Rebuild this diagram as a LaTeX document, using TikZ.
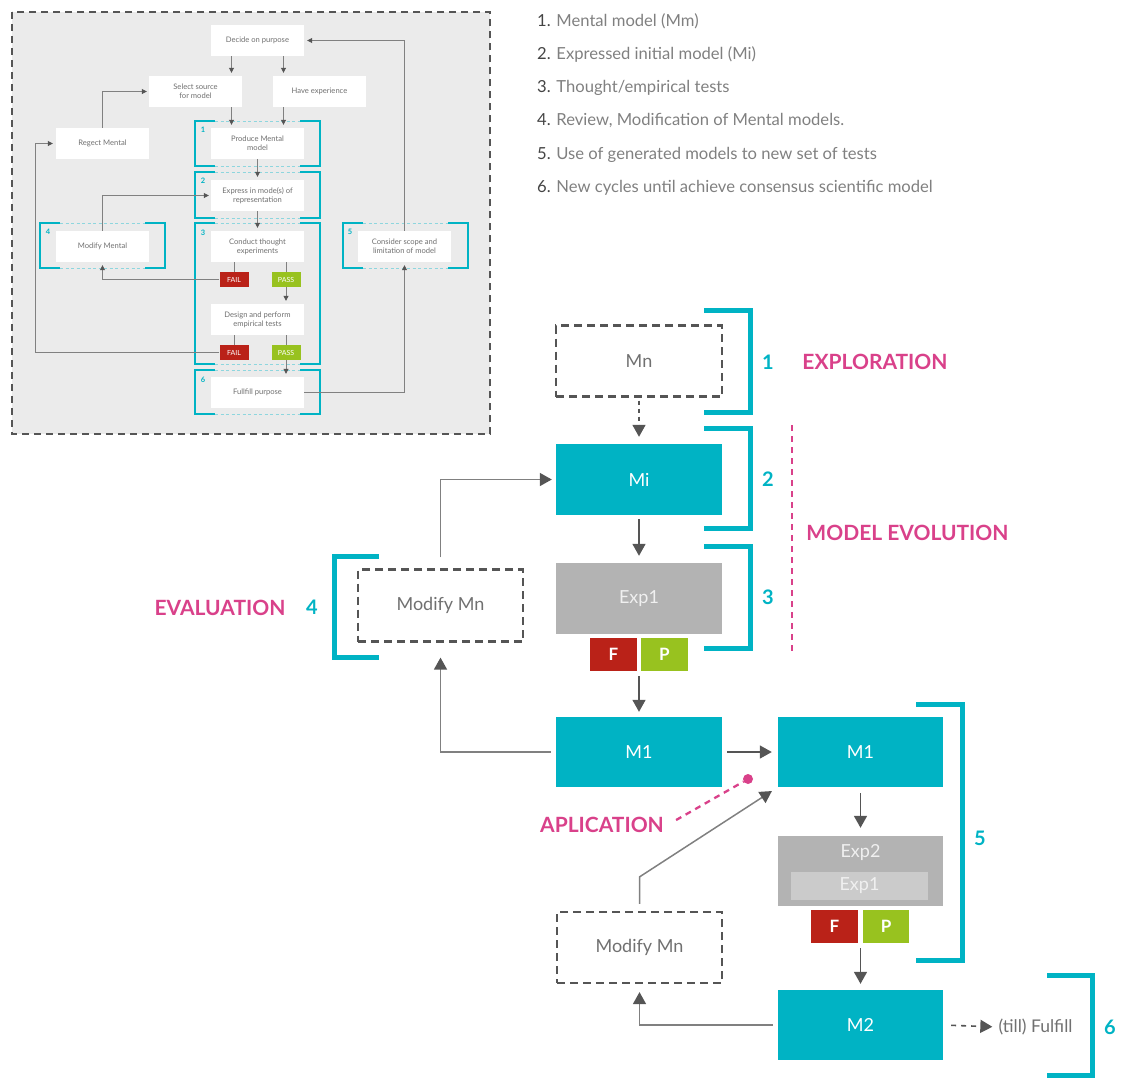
\documentclass[tikz,border=0pt]{standalone}
\usepackage{fontspec}
\setmainfont{Lato}
\usetikzlibrary{arrows.meta,calc}

\definecolor{tealc}{HTML}{00B3C4}
\definecolor{tealdash}{HTML}{8ED6DE}
\definecolor{pinkc}{HTML}{D9418A}
\definecolor{failc}{HTML}{BA2218}
\definecolor{passc}{HTML}{98C21F}
\definecolor{expgrey}{HTML}{B3B3B3}
\definecolor{expin}{HTML}{CBCBCB}
\definecolor{dgrey}{HTML}{555555}
\definecolor{lgrey}{HTML}{808080}
\definecolor{tgrey}{HTML}{707070}
\definecolor{insetbg}{HTML}{EBEBEB}
\definecolor{numgrey}{HTML}{444444}

% frame of a step in the small flow chart: solid ends, dashed middle
\newcommand\stepframe[4]{%
  \draw[iframe] (#1+20,#2) -- (#1,#2) -- (#1,#4) -- (#1+20,#4);
  \draw[iframe] (#3-20,#2) -- (#3,#2) -- (#3,#4) -- (#3-20,#4);
  \draw[iframedash] (#1+20,#2) -- (#3-20,#2);
  \draw[iframedash] (#1+20,#4) -- (#3-20,#4);
}

\begin{document}
\begin{tikzpicture}[x=1pt,y=-1pt,
  mainbox/.style={minimum width=166pt, minimum height=71pt, inner sep=0pt,
    font=\fontsize{18}{21}\selectfont},
  tealbox/.style={mainbox, fill=tealc, text=white},
  greybox/.style={mainbox, fill=expgrey, text=white!94!black},
  dashbox/.style={mainbox, draw=dgrey, line width=2.2pt,
    dash pattern=on 8pt off 5pt, text=tgrey},
  failbox/.style={fill=failc, text=white, minimum width=47pt, minimum height=33pt,
    inner sep=0pt, font=\fontsize{17}{19}\selectfont\bfseries},
  passbox/.style={failbox, fill=passc},
  darr/.style={draw=dgrey, line width=1.6pt, -{Triangle[length=12pt,width=13pt]}},
  link/.style={draw=lgrey, line width=1.5pt,
    -{Triangle[length=12pt,width=13pt,color=dgrey]}},
  brk/.style={draw=tealc, line width=5pt},
  num/.style={text=tealc, font=\fontsize{20}{23}\selectfont\bfseries},
  head/.style={text=pinkc, font=\fontsize{21}{24}\selectfont\bfseries},
  ibox/.style={fill=white, minimum width=93pt, minimum height=31pt, inner sep=0pt,
    align=center, text=tgrey, font=\fontsize{7.6}{9}\selectfont},
  ifail/.style={fill=failc, text=white, minimum width=29pt, minimum height=15pt,
    inner sep=0pt, font=\fontsize{7}{8}\selectfont},
  ipass/.style={ifail, fill=passc},
  iline/.style={draw=lgrey, line width=0.8pt},
  iarr/.style={iline, -{Triangle[length=5pt,width=5pt,color=dgrey]}},
  iframe/.style={draw=tealc, line width=2pt},
  iframedash/.style={draw=tealdash, line width=0.8pt, dash pattern=on 3pt off 2.5pt},
  inum/.style={text=tealc, font=\fontsize{7.5}{9}\selectfont\bfseries},
  listitem/.style={anchor=west, text=lgrey, inner sep=0pt,
    font=\fontsize{16.6}{19}\selectfont},
]
\useasboundingbox (0,0) rectangle (1121,1077);

% ---------------- small flow chart ----------------
\draw[draw=dgrey, fill=insetbg, line width=1.1pt, dash pattern=on 7pt off 5pt]
  (12,12) rectangle (490,434);

\stepframe{195}{121}{320}{166}
\stepframe{195}{172}{320}{218}
\stepframe{195}{223}{320}{364}
\stepframe{195}{370}{320}{414}
\stepframe{40}{223}{165}{268}
\stepframe{343}{223}{468}{268}

\node[inum] (i1) at (203,130) {1};
\node[inum] (i2) at (203,181) {2};
\node[inum] (i3) at (203,233) {3};
\node[inum] (i4) at (48,232) {4};
\node[inum] (i5) at (350,232) {5};
\node[inum] (i6) at (203,380) {6};

\node[ibox] (dec)  at (257.5,40.5)  {Decide on purpose};
\node[ibox] (sel)  at (195.5,91.5)  {Select source\\for model};
\node[ibox] (have) at (319.5,91.5)  {Have experience};
\node[ibox] (rej)  at (102.5,143.5) {Regect Mental};
\node[ibox] (prod) at (257.5,143.5) {Produce Mental\\model};
\node[ibox] (expr) at (257.5,195.5) {Express in mode(s) of\\representation};
\node[ibox] (modm) at (102.5,246.5) {Modify Mental};
\node[ibox] (cond) at (257.5,246.5) {Conduct thought\\experiments};
\node[ibox] (cons) at (404.5,246.5) {Consider scope and\\limitation of model};
\node[ifail] (fail1) at (234,279.5) {FAIL};
\node[ipass] (pass1) at (286,279.5) {PASS};
\node[ibox] (design) at (257.5,319.5) {Design and perform\\empirical tests};
\node[ifail] (fail2) at (234,352.5) {FAIL};
\node[ipass] (pass2) at (286,352.5) {PASS};
\node[ibox] (fulf) at (257.5,392.5) {Fullfill purpose};

\draw[iarr, shorten >=3pt] ([xshift=-26pt]dec.south) -- ([xshift=-26pt]dec.south |- sel.north);
\draw[iarr, shorten >=3pt] ([xshift=26pt]dec.south) -- ([xshift=26pt]dec.south |- have.north);
\draw[iarr, shorten >=3pt] ([xshift=-26pt]prod.north |- sel.south) -- ([xshift=-26pt]prod.north);
\draw[iarr, shorten >=3pt] ([xshift=26pt]prod.north |- have.south) -- ([xshift=26pt]prod.north);
\draw[iarr, shorten >=3pt] (prod.south) -- (expr.north);
\draw[iarr, shorten >=3pt] (expr.south) -- (cond.north);
\draw[iarr, shorten >=2pt] (rej.north) |- (sel.west);
\draw[iarr, shorten >=2pt] (modm.north) |- (expr.west);
\draw[iline] (fail1.north |- cond.south) -- (fail1.north);
\draw[iline] (pass1.north |- cond.south) -- (pass1.north);
\draw[iarr, shorten >=3pt] (fail1.west) -| (modm.south);
\draw[iarr, shorten >=3pt] (pass1.south) -- (pass1.south |- design.north);
\draw[iline] (fail2.north |- design.south) -- (fail2.north);
\draw[iline] (pass2.north |- design.south) -- (pass2.north);
\draw[iarr, shorten >=3pt] (fail2.west) -| ([xshift=-20pt]rej.west) -- (rej.west);
\draw[iarr, shorten >=3pt] (pass2.south) -- (pass2.south |- fulf.north);
\draw[iarr, shorten >=3pt] (fulf.east) -| (cons.south);
\draw[iarr, shorten >=3pt] (cons.north) |- (dec.east);

% ---------------- numbered list ----------------
\node[listitem] (l1) at (537,21)  {\textcolor{numgrey}{1.} Mental model (Mm)};
\node[listitem] (l2) at (537,54)  {\textcolor{numgrey}{2.} Expressed initial model (Mi)};
\node[listitem] (l3) at (537,88)  {\textcolor{numgrey}{3.} Thought/empirical tests};
\node[listitem] (l4) at (537,121) {\textcolor{numgrey}{4.} Review, Modification of Mental models.};
\node[listitem] (l5) at (537,155) {\textcolor{numgrey}{5.} Use of generated models to new set of tests};
\node[listitem] (l6) at (537,188) {\textcolor{numgrey}{6.} New cycles until achieve consensus scientific model};

% ---------------- main cycle ----------------
\node[dashbox] (mn)   at (639,361)   {Mn};
\node[tealbox] (mi)   at (639,479.5) {Mi};
\node[greybox] (exp1) at (639,598.5) {Exp1};
\node[failbox] (f1)   at (613.5,654.5) {F};
\node[passbox] (p1)   at (664.5,654.5) {P};
\node[tealbox, minimum height=70pt] (m1)  at (639,752)   {M1};
\node[tealbox, minimum width=165pt, minimum height=70pt] (m1b) at (860.5,752) {M1};
\node[mainbox, fill=expgrey, minimum width=165pt, minimum height=70pt] (exp2) at (860.5,871) {};
\node[text=white!94!black, font=\fontsize{18}{21}\selectfont, inner sep=0pt] (exp2t) at (860.5,853) {Exp2};
\node[fill=expin, text=white!94!black, minimum width=137pt, minimum height=28pt,
  inner sep=0pt, font=\fontsize{18}{21}\selectfont] (exp2in) at (859.5,886) {Exp1};
\node[failbox] (f2) at (834.5,926.5) {F};
\node[passbox, minimum width=46pt] (p2) at (886,926.5) {P};
\node[tealbox, minimum width=165pt, minimum height=70pt] (m2) at (860.5,1025) {M2};
\node[dashbox, minimum width=165pt] (mod2) at (639.5,947.5) {Modify Mn};
\node[dashbox, minimum width=165pt, minimum height=72pt] (mod1) at (440.5,605.5) {Modify Mn};
\node[text=tgrey, font=\fontsize{17.5}{20}\selectfont, inner sep=0pt] (till) at (1035.5,1027) {(till) Fulfill};

% brackets
\draw[brk] (704,310) -| (750,412) -- (704,412);
\draw[brk] (704,428) -| (750,528) -- (704,528);
\draw[brk] (704,546) -| (750,648) -- (704,648);
\draw[brk] (379,556) -| (334,657) -- (379,657);
\draw[brk] (916,704) -| (962,960) -- (916,960);
\draw[brk] (1047,975) -| (1092,1075) -- (1047,1075);

\node[num] (n1) at (768,362) {1};
\node[num] (n2) at (768,479) {2};
\node[num] (n3) at (768,597) {3};
\node[num] (n4) at (312,607) {4};
\node[num] (n5) at (980,838) {5};
\node[num] (n6) at (1110,1027) {6};

\node[head] (explo) at (875,362) {EXPLORATION};
\node[head] (evol)  at (907.5,533) {MODEL EVOLUTION};
\node[head] (eval)  at (220,608) {EVALUATION};
\node[head] (aplic) at (602,825) {APLICATION};

\draw[draw=pinkc, line width=2.5pt, dash pattern=on 6pt off 5pt] (792,425) -- (792,652);

% connectors
\draw[darr, dash pattern=on 4pt off 4pt, shorten <=3pt, shorten >=7pt] (mn.south) -- (mi.north);
\draw[darr, shorten <=4pt, shorten >=7pt] (mi.south) -- (exp1.north);
\draw[darr, shorten <=5pt, shorten >=5pt] (exp1.south |- f1.south) -- (m1.north);
\draw[darr, shorten <=5pt, shorten >=6pt] (m1.east) -- (m1b.west);
\draw[darr, shorten <=6pt, shorten >=8pt] (m1b.south) -- (exp2.north);
\draw[darr, shorten <=5pt, shorten >=6pt] (exp2.south |- f2.south) -- (m2.north);
\draw[darr, dash pattern=on 5pt off 5pt, shorten <=8pt, shorten >=6pt] (m2.east) -- (till.west);
\draw[link, shorten <=5pt, shorten >=8pt] (m2.west) -| (mod2.south);
\draw[link, shorten <=7pt, shorten >=7pt] (mod2.north) -- ([yshift=34pt]mod2.north) -- (m1b.south west);
\draw[link, shorten <=5pt, shorten >=15pt] (m1.west) -| (mod1.south);
\draw[link, shorten <=11pt, shorten >=4pt] (mod1.north) |- (mi.west);

% application pointer
\coordinate (dot) at (748,779);
\draw[draw=pinkc, line width=2.3pt, dash pattern=on 6pt off 5pt, shorten <=10pt, shorten >=5pt] (aplic.east) -- (dot);
\fill[pinkc] (dot) circle (5pt);

\end{tikzpicture}
\end{document}
